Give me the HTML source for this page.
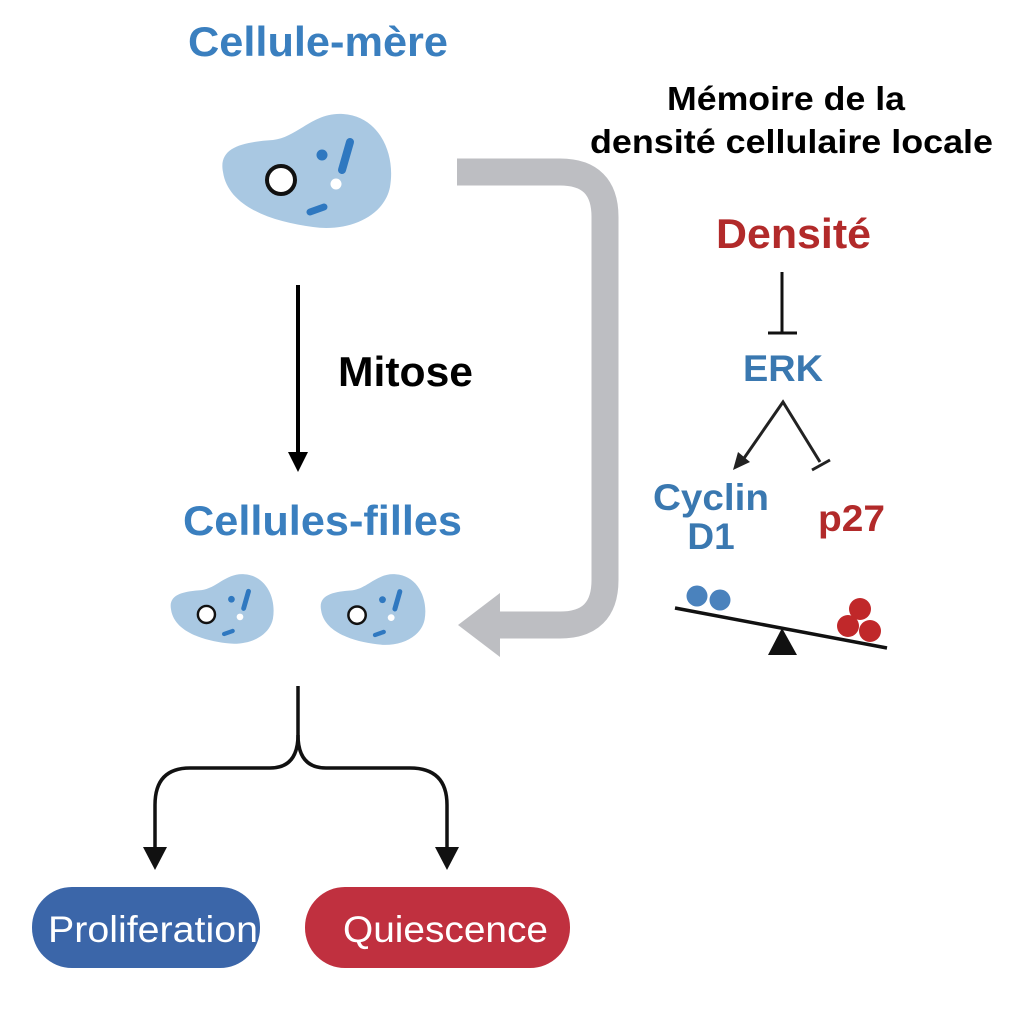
<!DOCTYPE html>
<html><head><meta charset="utf-8"><style>html,body{margin:0;padding:0;background:#fff}svg{display:block}</style></head>
<body>
<svg width="1016" height="1024" viewBox="0 0 1016 1024" xmlns="http://www.w3.org/2000/svg" font-family="Liberation Sans, Arial, sans-serif" font-weight="bold">
<defs>
<g id="cell">
<path d="M 5,60 C 0,35 25,30 55,28 C 80,25 95,0 125,2 C 160,4 178,40 172,75 C 166,105 130,120 95,115 C 55,110 10,95 5,60 Z" fill="#a9c8e2"/>
<circle cx="63" cy="68" r="14" fill="#fff" stroke="#111" stroke-width="4"/>
<circle cx="104" cy="43" r="5.5" fill="#2f78c0"/>
<line x1="132" y1="30" x2="124" y2="58" stroke="#2f78c0" stroke-width="8" stroke-linecap="round"/>
<circle cx="118" cy="72" r="5.5" fill="#fff"/>
<line x1="92" y1="100" x2="106" y2="95" stroke="#2f78c0" stroke-width="7" stroke-linecap="round"/>
</g>
</defs>
<text x="188" y="56" font-size="42" fill="#3a7fbf" textLength="260" lengthAdjust="spacingAndGlyphs">Cellule-mère</text>
<use href="#cell" transform="translate(218,112)"/>
<use href="#cell" transform="translate(168,573) scale(0.61)"/>
<use href="#cell" transform="translate(318,573) scale(0.62)"/>
<path d="M457,172 H560 Q605,172 605,217 V580 Q605,625 560,625 H495" fill="none" stroke="#bdbec2" stroke-width="27"/>
<polygon points="458,625 500,593 500,657" fill="#bdbec2"/>
<line x1="298" y1="285" x2="298" y2="455" stroke="#000" stroke-width="4"/>
<polygon points="288,452 308,452 298,472" fill="#000"/>
<text x="338" y="386" font-size="42" fill="#000" textLength="135" lengthAdjust="spacingAndGlyphs">Mitose</text>
<text x="183" y="535" font-size="42" fill="#3a7fbf" textLength="279" lengthAdjust="spacingAndGlyphs">Cellules-filles</text>
<path d="M298,686 V735 Q298,768 270,768 H190 Q155,768 155,805 V850" fill="none" stroke="#111" stroke-width="3.5"/>
<path d="M298,735 Q298,768 326,768 H410 Q447,768 447,805 V850" fill="none" stroke="#111" stroke-width="3.5"/>
<polygon points="143,847 167,847 155,870" fill="#111"/>
<polygon points="435,847 459,847 447,870" fill="#111"/>
<rect x="32" y="887" width="228" height="81" rx="40" fill="#3b66a9"/>
<rect x="305" y="887" width="265" height="81" rx="40" fill="#c0303f"/>
<text x="48" y="942" font-size="37" font-weight="normal" fill="#fff" textLength="210" lengthAdjust="spacingAndGlyphs">Proliferation</text>
<text x="343" y="942" font-size="37" font-weight="normal" fill="#fff" textLength="205" lengthAdjust="spacingAndGlyphs">Quiescence</text>
<text x="667" y="110" font-size="33" fill="#000" textLength="238" lengthAdjust="spacingAndGlyphs">Mémoire de la</text>
<text x="590" y="153" font-size="33" fill="#000" textLength="403" lengthAdjust="spacingAndGlyphs">densité cellulaire locale</text>
<text x="716" y="248" font-size="42" fill="#b22a2a" textLength="155" lengthAdjust="spacingAndGlyphs">Densité</text>
<line x1="782" y1="272" x2="782" y2="332" stroke="#111" stroke-width="3"/>
<line x1="768" y1="333" x2="797" y2="333" stroke="#111" stroke-width="3"/>
<text x="743" y="381" font-size="37" fill="#3a78b0" textLength="80" lengthAdjust="spacingAndGlyphs">ERK</text>
<path d="M740,464 L783,402 L820,462" fill="none" stroke="#222" stroke-width="3"/>
<polygon points="733,470 738,452 750,462" fill="#222"/>
<line x1="812" y1="470" x2="830" y2="460" stroke="#222" stroke-width="3"/>
<text x="653" y="510" font-size="37" fill="#3a78b0" textLength="116" lengthAdjust="spacingAndGlyphs">Cyclin</text>
<text x="711" y="549" font-size="37" fill="#3a78b0" text-anchor="middle">D1</text>
<text x="818" y="531" font-size="37" fill="#b22a2a" textLength="67" lengthAdjust="spacingAndGlyphs">p27</text>
<line x1="675" y1="608" x2="887" y2="648" stroke="#111" stroke-width="3.5"/>
<polygon points="782,628 768,655 797,655" fill="#111"/>
<circle cx="697" cy="596" r="10.5" fill="#4a82bd"/>
<circle cx="720" cy="600" r="10.5" fill="#4a82bd"/>
<circle cx="860" cy="609" r="11" fill="#c0282a"/>
<circle cx="848" cy="626" r="11" fill="#c0282a"/>
<circle cx="870" cy="631" r="11" fill="#c0282a"/>
</svg>
</body></html>
